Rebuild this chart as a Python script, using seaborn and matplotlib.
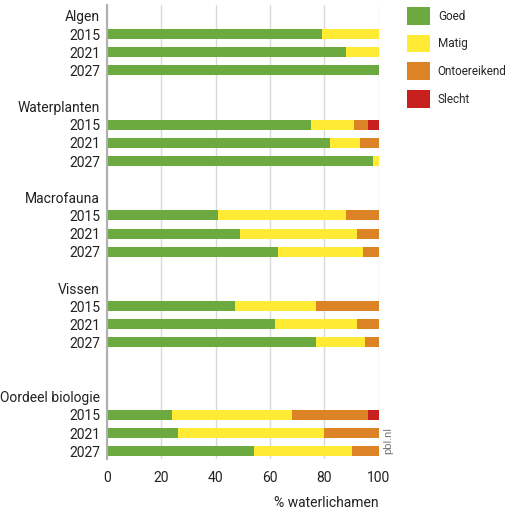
import numpy as np
import pandas as pd
import matplotlib
matplotlib.use("Agg")
import matplotlib.pyplot as plt
from matplotlib import font_manager
from matplotlib.patches import Patch
import seaborn as sns

# data (% waterlichamen)
groepen = ["Algen", "Waterplanten", "Macrofauna", "Vissen", "Oordeel biologie"]
jaren = ["2015", "2021", "2027"]
goed = [79, 88, 100, 75, 82, 98, 41, 49, 63, 47, 62, 77, 24, 26, 54]
matig = [21, 12, 0, 16, 11, 2, 47, 43, 31, 30, 30, 18, 44, 54, 36]
ontoereikend = [0, 0, 0, 5, 7, 0, 12, 8, 6, 23, 8, 5, 28, 20, 10]
slecht = [0, 0, 0, 4, 0, 0, 0, 0, 0, 0, 0, 0, 4, 0, 0]
klassen = ["Goed", "Matig", "Ontoereikend", "Slecht"]
kleuren = ["#6ca93f", "#ffeb33", "#dc8326", "#c8201c"]

sns.set_style("white")
plt.rcParams["font.family"] = ["Roboto", "DejaVu Sans"]

# smalle letter voor de legenda als die er is
namen = {f.name for f in font_manager.fontManager.ttflist}
if "Liberation Sans Narrow" in namen:
    leg_font = {"family": "Liberation Sans Narrow", "size": 10.5}
else:
    leg_font = {"family": "Roboto", "size": 8.5}

# rows: group header, three years, blank line(s)
rijen = []
labels = []
for i, g in enumerate(groepen):
    rijen.append("kop_" + g)
    labels.append(g)
    for j in jaren:
        rijen.append(g + "_" + j)
        labels.append(j)
    if i < len(groepen) - 1:
        rijen.append("leeg_" + str(i))
        labels.append("")
        if i == 3:
            rijen.append("leeg_extra")
            labels.append("")

df = pd.DataFrame({
    "rij": [g + "_" + j for g in groepen for j in jaren],
    "Goed": goed, "Matig": matig, "Ontoereikend": ontoereikend, "Slecht": slecht,
})
cum = df[klassen].cumsum(axis=1)

fig = plt.figure(figsize=(5.14, 5.11), dpi=100)
ax = fig.add_axes([0.208, 0.101, 0.529, 0.889])

for k, c in zip(klassen[::-1], kleuren[::-1]):
    sns.barplot(x=cum[k], y=df["rij"], order=rijen, orient="h", color=c,
                width=0.55, saturation=1, ax=ax, linewidth=0)

ax.set_xlim(0, 100)
ax.set_ylim(len(rijen) - 0.55, -0.6)
ax.set_xticks([0, 20, 40, 60, 80, 100])
ax.set_yticks(range(len(rijen)))
ax.set_yticklabels(labels)
ax.tick_params(axis="both", length=0, labelsize=10, colors="#222222")
ax.tick_params(axis="y", pad=5)
ax.tick_params(axis="x", pad=8)
ax.xaxis.grid(True, color="#d9d9d9", linewidth=1)
ax.set_axisbelow(True)
for s in ["top", "right", "bottom"]:
    ax.spines[s].set_visible(False)
ax.spines["left"].set_color("#b0b0b0")
ax.spines["left"].set_linewidth(1.5)
ax.set_ylabel("")
ax.set_xlabel("% waterlichamen", loc="right", fontsize=10, color="#222222", labelpad=8)

ax.text(101.8, 23.4, "pbl.nl", rotation=90, ha="left", va="center",
        fontsize=8, color="#777777")

handles = [Patch(facecolor=c, edgecolor="none", label=k) for k, c in zip(klassen, kleuren)]
fig.legend(handles=handles, loc="upper left", bbox_to_anchor=(0.776, 1.002), frameon=False,
           prop=leg_font, handlelength=1.9, handleheight=1.9, labelspacing=0.86,
           handletextpad=0.7, borderaxespad=0.3)

fig.savefig("out.png", dpi=100)
